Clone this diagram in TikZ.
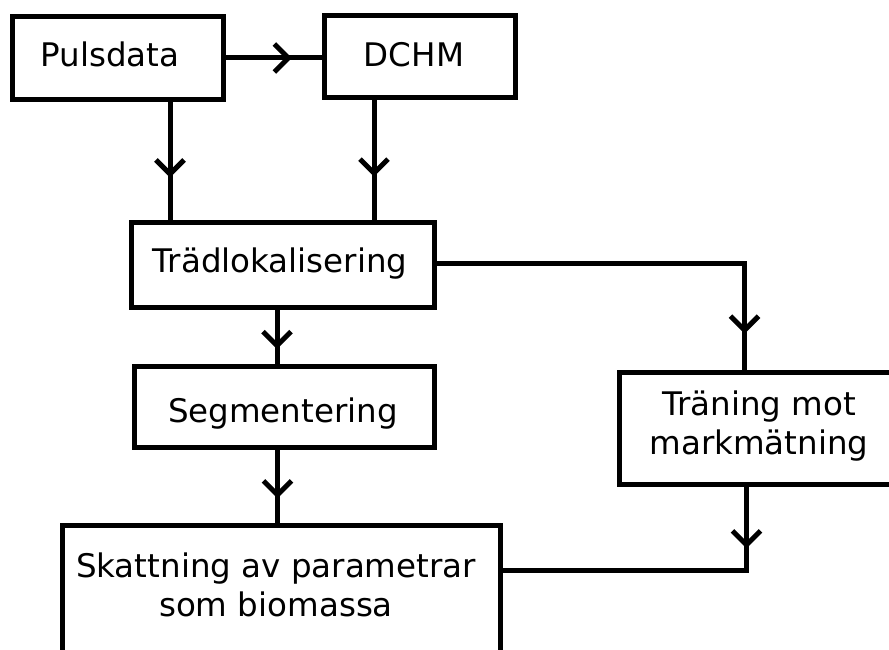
\documentclass[tikz,border=0pt]{standalone}
\usepackage{fontspec}
\setmainfont{DejaVu Sans}
\usetikzlibrary{decorations.markings,calc}
\begin{document}
\begin{tikzpicture}[x=1pt,y=-1pt,
  box/.style={draw, line width=5pt, rectangle, inner sep=0pt},
  lbl/.style={font=\fontsize{32.5}{38.5}\selectfont, inner sep=0pt, align=center},
  conn/.style={line width=5pt, postaction={decorate},
    decoration={markings, mark=at position #1 with {\draw[line width=5pt] (-14pt,14pt) -- (0pt,0pt) -- (-14pt,-14pt);}}},
]
\useasboundingbox (0,0) rectangle (889,650);
\fill[white] (0,0) rectangle (889,650);
\clip (0,0) rectangle (889,650);

% boxes
\node[box, minimum width=211pt, minimum height=83pt] (puls) at (118,58) {};
\node[box, minimum width=191pt, minimum height=82pt] (dchm) at (420,56.5) {};
\node[box, minimum width=303pt, minimum height=85pt] (trad) at (283,265) {};
\node[box, minimum width=300pt, minimum height=81pt] (seg) at (284.5,407) {};
\node[box, minimum width=301pt, minimum height=112pt] (tran) at (769.5,428.5) {};
\node[box, minimum width=438pt, minimum height=175pt] (skatt) at (281.5,612.5) {};

% texts
\node[lbl, anchor=base] (pulst) at (110,67) {Pulsdata};
\node[lbl, anchor=base] (dchmt) at (414,67) {DCHM};
\node[lbl, anchor=base] (tradt) at (280,272) {Trädlokalisering};
\node[lbl, anchor=base] (segt) at (283,422) {Segmentering};
\node[lbl] (trant) at (759,426) {Träning mot\\markmätning};
\node[lbl] (skattt) at (276,585) {Skattning av parametrar\\som biomassa};

% connectors
\draw[conn=0.65] (puls.east) -- (puls.east -| dchm.west);
\draw[conn=0.61] ([xshift=52pt]puls.south) -- ([xshift=52pt]puls.south |- trad.north);
\draw[conn=0.61] ([xshift=-46pt]dchm.south) -- ([xshift=-46pt]dchm.south |- trad.north);
\draw[conn=0.66] ([xshift=-6pt]trad.south) -- ([xshift=-6pt]trad.south |- seg.north);
\draw[conn=0.62] ([xshift=-7pt]seg.south) -- ([xshift=-7pt]seg.south |- skatt.north);
\draw[conn=0.904] ([yshift=2pt]trad.east) -| ([xshift=128pt]tran.north west);
\draw[conn=0.177] ([xshift=130pt]tran.south west) |- ([yshift=-48pt]skatt.north east);
\end{tikzpicture}
\end{document}
